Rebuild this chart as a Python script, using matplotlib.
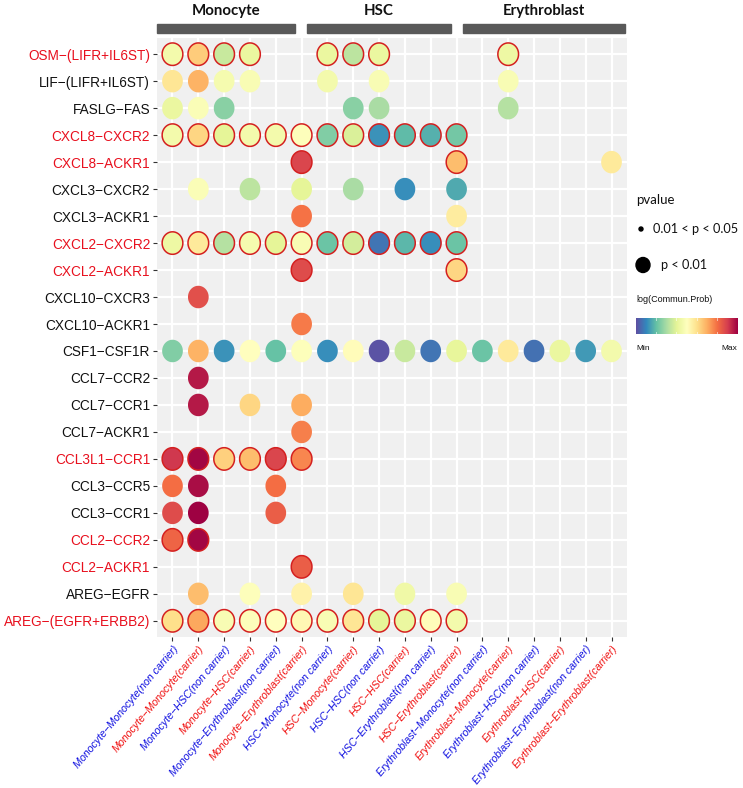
import numpy as np
import matplotlib
matplotlib.use("Agg")
import matplotlib.pyplot as plt
from matplotlib.path import Path
from matplotlib.colors import Normalize

# ---------------- data ----------------
interactions = [
    "OSM−(LIFR+IL6ST)", "LIF−(LIFR+IL6ST)", "FASLG−FAS", "CXCL8−CXCR2",
    "CXCL8−ACKR1", "CXCL3−CXCR2", "CXCL3−ACKR1", "CXCL2−CXCR2",
    "CXCL2−ACKR1", "CXCL10−CXCR3", "CXCL10−ACKR1", "CSF1−CSF1R",
    "CCL7−CCR2", "CCL7−CCR1", "CCL7−ACKR1", "CCL3L1−CCR1",
    "CCL3−CCR5", "CCL3−CCR1", "CCL2−CCR2", "CCL2−ACKR1",
    "AREG−EGFR", "AREG−(EGFR+ERBB2)",
]
highlight_rows = [
    "OSM−(LIFR+IL6ST)", "CXCL8−CXCR2", "CXCL8−ACKR1", "CXCL2−CXCR2",
    "CXCL2−ACKR1", "CCL3L1−CCR1", "CCL2−CCR2", "CCL2−ACKR1",
    "AREG−(EGFR+ERBB2)",
]
pairs = [
    "Monocyte−Monocyte(non carrier)", "Monocyte−Monocyte(carrier)",
    "Monocyte−HSC(non carrier)", "Monocyte−HSC(carrier)",
    "Monocyte−Erythroblast(non carrier)", "Monocyte−Erythroblast(carrier)",
    "HSC−Monocyte(non carrier)", "HSC−Monocyte(carrier)",
    "HSC−HSC(non carrier)", "HSC−HSC(carrier)",
    "HSC−Erythroblast(non carrier)", "HSC−Erythroblast(carrier)",
    "Erythroblast−Monocyte(non carrier)", "Erythroblast−Monocyte(carrier)",
    "Erythroblast−HSC(non carrier)", "Erythroblast−HSC(carrier)",
    "Erythroblast−Erythroblast(non carrier)", "Erythroblast−Erythroblast(carrier)",
]
groups = ["Monocyte", "HSC", "Erythroblast"]

# scaled log(Commun.Prob) (0 = Min, 1 = Max); None = no interaction
N = None
prob = [
    # 1     2     3     4     5     6     7     8     9     10    11    12    13    14    15    16    17    18
    [0.45, 0.64, 0.35, 0.42, N,    N,    0.42, 0.33, 0.42, N,    N,    N,    N,    0.43, N,    N,    N,    N],     # OSM
    [0.58, 0.69, 0.46, 0.47, N,    N,    0.45, N,    0.47, N,    N,    N,    N,    0.47, N,    N,    N,    N],     # LIF
    [0.42, 0.48, 0.25, N,    N,    N,    N,    0.25, 0.30, N,    N,    N,    N,    0.32, N,    N,    N,    N],     # FASLG
    [0.45, 0.62, 0.40, 0.45, 0.45, 0.49, 0.24, 0.38, 0.12, 0.19, 0.17, 0.22, N,    N,    N,    N,    N,    N],     # CXCL8-CXCR2
    [N,    N,    N,    N,    N,    0.88, N,    N,    N,    N,    N,    0.67, N,    N,    N,    N,    N,    0.57],  # CXCL8-ACKR1
    [N,    0.48, N,    0.33, N,    0.40, N,    0.30, N,    0.11, N,    0.16, N,    N,    N,    N,    N,    N],     # CXCL3-CXCR2
    [N,    N,    N,    N,    N,    0.79, N,    N,    N,    N,    N,    0.56, N,    N,    N,    N,    N,    N],     # CXCL3-ACKR1
    [0.43, 0.57, 0.32, 0.46, 0.40, 0.47, 0.21, 0.37, 0.07, 0.18, 0.11, 0.21, N,    N,    N,    N,    N,    N],     # CXCL2-CXCR2
    [N,    N,    N,    N,    N,    0.87, N,    N,    N,    N,    N,    0.62, N,    N,    N,    N,    N,    N],     # CXCL2-ACKR1
    [N,    0.86, N,    N,    N,    N,    N,    N,    N,    N,    N,    N,    N,    N,    N,    N,    N,    N],     # CXCL10-CXCR3
    [N,    N,    N,    N,    N,    0.78, N,    N,    N,    N,    N,    N,    N,    N,    N,    N,    N,    N],     # CXCL10-ACKR1
    [0.24, 0.69, 0.12, 0.50, 0.20, 0.49, 0.11, 0.51, 0.01, 0.35, 0.07, 0.41, 0.21, 0.57, 0.06, 0.42, 0.13, 0.45],  # CSF1
    [N,    0.96, N,    N,    N,    N,    N,    N,    N,    N,    N,    N,    N,    N,    N,    N,    N,    N],     # CCL7-CCR2
    [N,    0.96, N,    0.62, N,    0.70, N,    N,    N,    N,    N,    N,    N,    N,    N,    N,    N,    N],     # CCL7-CCR1
    [N,    N,    N,    N,    N,    0.77, N,    N,    N,    N,    N,    N,    N,    N,    N,    N,    N,    N],     # CCL7-ACKR1
    [0.91, 0.99, 0.63, 0.67, 0.88, 0.76, N,    N,    N,    N,    N,    N,    N,    N,    N,    N,    N,    N],     # CCL3L1-CCR1
    [0.80, 0.98, N,    N,    0.80, N,    N,    N,    N,    N,    N,    N,    N,    N,    N,    N,    N,    N],     # CCL3-CCR5
    [0.87, 1.00, N,    N,    0.83, N,    N,    N,    N,    N,    N,    N,    N,    N,    N,    N,    N,    N],     # CCL3-CCR1
    [0.82, 0.99, N,    N,    N,    N,    N,    N,    N,    N,    N,    N,    N,    N,    N,    N,    N,    N],     # CCL2-CCR2
    [N,    N,    N,    N,    N,    0.83, N,    N,    N,    N,    N,    N,    N,    N,    N,    N,    N,    N],     # CCL2-ACKR1
    [N,    0.67, N,    0.49, N,    0.54, N,    0.58, N,    0.44, N,    0.47, N,    N,    N,    N,    N,    N],     # AREG-EGFR
    [0.60, 0.71, 0.47, 0.49, 0.50, 0.52, 0.47, 0.58, 0.40, 0.42, 0.51, 0.45, N,    N,    N,    N,    N,    N],     # AREG-(EGFR+ERBB2)
]
# columns (1-based) whose bubble carries a red ring, per highlighted row
outlined = {
    "OSM−(LIFR+IL6ST)": [1, 2, 3, 4, 7, 8, 9, 14],
    "CXCL8−CXCR2": list(range(1, 13)),
    "CXCL8−ACKR1": [6, 12],
    "CXCL2−CXCR2": list(range(1, 13)),
    "CXCL2−ACKR1": [6, 12],
    "CCL3L1−CCR1": [1, 2, 3, 4, 5, 6],
    "CCL2−CCR2": [1, 2],
    "CCL2−ACKR1": [6],
    "AREG−(EGFR+ERBB2)": list(range(1, 13)),
}

# ---------------- figure ----------------
W, H = 743, 788
fig = plt.figure(figsize=(W / 100, H / 100), dpi=100)
L, R, T, B = 157, 627, 38, 637
ax = fig.add_axes([L / W, 1 - B / H, (R - L) / W, (B - T) / H])

cmap = plt.get_cmap("Spectral_r")
norm = Normalize(0, 1)

# slightly tall ellipse marker (as in the reference)
t = np.linspace(0, 2 * np.pi, 80)
ell = Path(np.column_stack([0.46 * np.cos(t), 0.5 * np.sin(t)]), closed=True)

nrow, ncol = len(interactions), len(pairs)
ax.set_xlim(0.4, ncol + 0.6)
ax.set_ylim(nrow - 1 + 0.6, -0.6)
ax.set_facecolor("#F0F0F0")
for c in range(1, ncol + 1):
    ax.axvline(c, color="white", lw=1.6, zorder=0)
for r in range(nrow):
    ax.axhline(r, color="white", lw=1.6, zorder=0)
for s in ax.spines.values():
    s.set_visible(False)

xs, ys, cs, ec, lw = [], [], [], [], []
for r, name in enumerate(interactions):
    ring = outlined.get(name, [])
    for c, v in enumerate(prob[r], start=1):
        if v is None:
            continue
        xs.append(c)
        ys.append(r)
        cs.append(cmap(norm(v)))
        if c in ring:
            ec.append("#D42020")
            lw.append(1.1)
        else:
            ec.append("none")
            lw.append(0)
ax.scatter(xs, ys, s=(22.5 * 0.72) ** 2, marker=ell, c=cs, edgecolors=ec,
           linewidths=lw, zorder=3)

# axes ticks / labels
ax.set_yticks(range(nrow))
ax.set_yticklabels(interactions, fontsize=9.8, family="Liberation Sans")
for lab, name in zip(ax.get_yticklabels(), interactions):
    lab.set_color("#E8101E" if name in highlight_rows else "#111111")
ax.set_xticks(range(1, ncol + 1))
ax.set_xticklabels(pairs, rotation=50, ha="right", va="top",
                   rotation_mode="anchor", fontsize=7.7,
                   family="Liberation Sans", style="italic")
for i, lab in enumerate(ax.get_xticklabels()):
    lab.set_color("#1010E0" if i % 2 == 0 else "#F01010")
ax.tick_params(axis="both", length=3, width=0.8, color="#333333", pad=2)

# group strips on top
strip_px = [(157, 295), (307, 451), (463, 625)]
for g, (x0, x1) in zip(groups, strip_px):
    fig.patches.append(plt.Rectangle((x0 / W, 1 - 33 / H), (x1 - x0) / W, 9 / H,
                                     transform=fig.transFigure, color="#595959"))
    fig.text((x0 + x1) / 2 / W, 1 - 11 / H, g, ha="center", va="center",
             fontsize=10.8, fontweight="bold", family="Lato", color="#111111")

# legend: pvalue
fig.text(636 / W, 1 - 200 / H, "pvalue", ha="left", va="center", fontsize=9.5,
         family="Lato", color="#111111")
fig.patches.append(matplotlib.patches.Ellipse((641 / W, 1 - 229 / H), 4 / W, 4 / H,
                                              transform=fig.transFigure, color="black"))
fig.text(653 / W, 1 - 229 / H, "0.01 < p < 0.05", ha="left", va="center",
         fontsize=9.2, family="Lato", color="#111111")
fig.patches.append(matplotlib.patches.Ellipse((643 / W, 1 - 265 / H), 14 / W, 15 / H,
                                              transform=fig.transFigure, color="black"))
fig.text(661 / W, 1 - 265 / H, "p < 0.01", ha="left", va="center",
         fontsize=9.2, family="Lato", color="#111111")

# legend: colorbar
fig.text(636 / W, 1 - 300 / H, "log(Commun.Prob)", ha="left", va="center",
         fontsize=6.5, family="Liberation Sans", color="#111111")
cax = fig.add_axes([636 / W, 1 - 334 / H, 101 / W, 16 / H])
cax.imshow(np.linspace(0, 1, 256)[None, :], aspect="auto", cmap=cmap,
           extent=(0, 1, 0, 1))
for tv in [0.2, 0.4, 0.6, 0.8]:
    cax.plot([tv, tv], [0, 0.15], color="white", lw=0.6, alpha=0.7)
    cax.plot([tv, tv], [0.85, 1], color="white", lw=0.6, alpha=0.7)
cax.set_xlim(0, 1)
cax.set_ylim(0, 1)
cax.axis("off")
fig.text(636 / W, 1 - 348 / H, "Min", ha="left", va="center", fontsize=6,
         family="Liberation Sans", color="#111111")
fig.text(737 / W, 1 - 348 / H, "Max", ha="right", va="center", fontsize=6,
         family="Liberation Sans", color="#111111")

fig.savefig("out.png", dpi=100)
